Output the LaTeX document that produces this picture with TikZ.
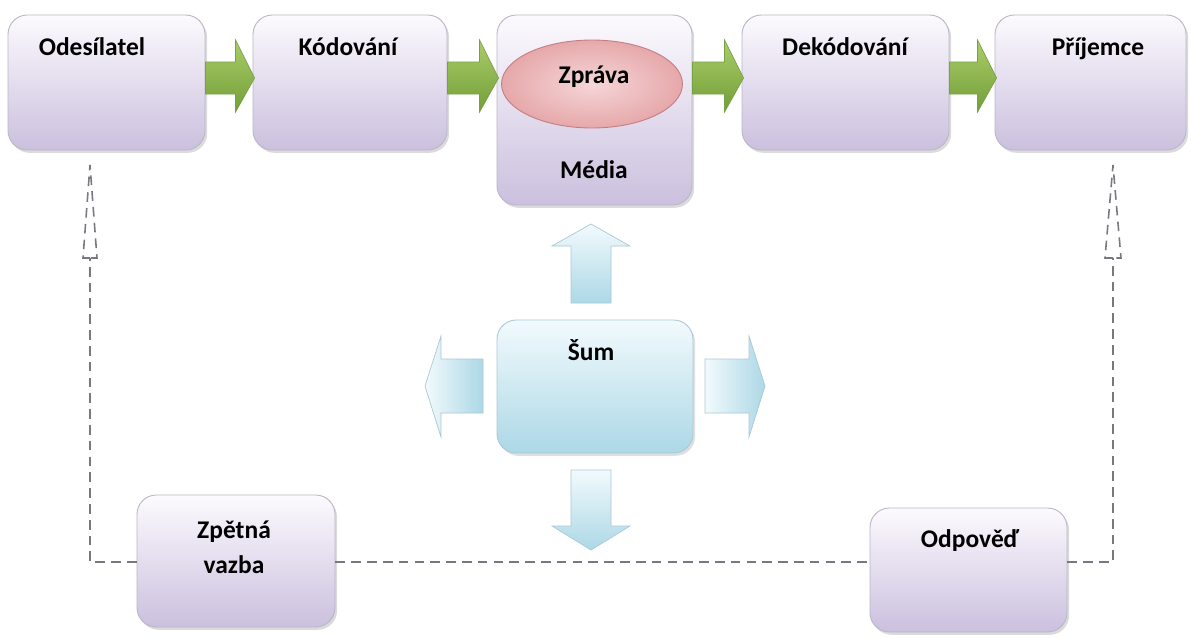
\documentclass[tikz,border=0pt]{standalone}
\usepackage{fontspec}
\setmainfont{Carlito}
\usetikzlibrary{shadows,fit,calc,shapes.geometric}
\definecolor{boxtop}{RGB}{252,250,254}
\definecolor{boxbot}{RGB}{203,192,222}
\definecolor{boxline}{RGB}{185,182,198}
\definecolor{bluetop}{RGB}{242,250,253}
\definecolor{bluebot}{RGB}{172,216,230}
\definecolor{blueline}{RGB}{170,200,215}
\definecolor{greentop}{RGB}{170,205,105}
\definecolor{greenbot}{RGB}{115,158,55}
\definecolor{greenline}{RGB}{120,160,70}
\definecolor{pinkin}{RGB}{246,214,216}
\definecolor{pinkout}{RGB}{230,168,170}
\definecolor{pinkline}{RGB}{195,125,128}
\definecolor{dashgray}{RGB}{120,120,128}
\tikzset{
  pbox/.style={draw=boxline, line width=0.5pt, rounded corners=11pt, inner sep=0pt,
     top color=boxtop, bottom color=boxbot,
     drop shadow={opacity=0.28, shadow xshift=1.2pt, shadow yshift=-1.6pt}},
  bbox/.style={draw=blueline, line width=0.5pt, rounded corners=11pt, inner sep=0pt,
     top color=bluetop, bottom color=bluebot,
     drop shadow={opacity=0.25, shadow xshift=1.2pt, shadow yshift=-1.6pt}},
  lbl/.style={font=\fontsize{14.5}{17}\selectfont\bfseries, anchor=base, inner sep=0pt},
  garrow/.style={draw=greenline, line width=0.4pt, top color=greentop, bottom color=greenbot},
  barrow/.style={draw=blueline, line width=0.4pt, top color=bluetop, bottom color=bluebot},
  barrowh/.style={draw=blueline, line width=0.4pt, left color=bluetop, right color=bluebot},
  fb/.style={draw=dashgray, line width=0.9pt, dash pattern=on 5.5pt off 3.5pt},
}
\begin{document}
\begin{tikzpicture}[x=0.02cm,y=-0.02cm]
\useasboundingbox (0,0) rectangle (1191,637);
\fill[white] (0,0) rectangle (1191,637);

% feedback dashed lines (behind boxes)
\coordinate (ltip) at (90,165);
\coordinate (lbase) at (90,258);
\coordinate (lcorner) at (90,562);
\coordinate (rtip) at (1113,165);
\coordinate (rbase) at (1113,258);
\coordinate (rcorner) at (1113,562);

% top row boxes
\node[pbox, fit={(8,15) (205,150)}] (odes) {};
\node[pbox, fit={(253,15) (447,150)}] (kod) {};
\node[pbox, fit={(497,15) (692,205)}] (media) {};
\node[pbox, fit={(742,15) (949,150)}] (dek) {};
\node[pbox, fit={(995,15) (1186,150)}] (prij) {};

% bottom boxes
\node[pbox, fit={(137,495) (335,627)}] (zpet) {};
\node[pbox, fit={(870,508) (1067,632)}] (odp) {};

% noise box
\node[bbox, fit={(497,320) (693,453)}] (sum) {};

% Zprava ellipse
\node[draw=pinkline, line width=0.5pt, ellipse, inner color=pinkin, outer color=pinkout,
      minimum width=3.62cm, minimum height=1.76cm, inner sep=0pt] (zprava) at (592,84) {};

% labels
\node[lbl] at (92,55) {Odesílatel};
\node[lbl] at (348,55) {Kódování};
\node[lbl] at (594,83) {Zpráva};
\node[lbl] at (594,178) {Média};
\node[lbl] at (845,55) {Dekódování};
\node[lbl] at (1098,55) {Příjemce};
\node[lbl] at (591,360) {Šum};
\node[lbl] at (234,538) {Zpětná};
\node[lbl] at (234,573) {vazba};
\node[lbl] at (970,547) {Odpověď};

% green block arrows between boxes
\foreach \a/\b in {odes/kod, kod/media, media/dek, dek/prij}{
  \path (\a.east |- 0,62) coordinate (s1) (\b.west |- 0,78) coordinate (tp);
  \draw[garrow] (s1) -- ($(tp)+(-17,-16)$) -- ($(tp)+(-17,-38)$) -- ($(tp)+(2,0)$)
     -- ($(tp)+(-17,34)$) -- ($(tp)+(-17,16)$) -- (s1 |- 0,94) -- cycle;
}

% blue block arrows around noise
\coordinate (up) at (591,224);
\draw[barrow] (571,303) -- (571,246) -- (552,246) -- (up) -- (630,246) -- (611,246) -- (611,303) -- cycle;
\coordinate (dn) at (591,550);
\draw[barrow] (571,470) -- (571,526) -- (552,526) -- (dn) -- (630,526) -- (611,526) -- (611,470) -- cycle;
\coordinate (lf) at (425,386);
\draw[barrowh] (483,359) -- (441,359) -- (441,336) -- (lf) -- (441,437) -- (441,413) -- (483,413) -- cycle;
\coordinate (rt) at (765,386);
\draw[barrowh] (705,359) -- (749,359) -- (749,336) -- (rt) -- (749,437) -- (749,413) -- (705,413) -- cycle;

% feedback path
\draw[fb] (zpet.west |- lcorner) -- (lcorner) -- (lbase);
\draw[fb] (lbase) -- ++(-7,0) -- (ltip) -- ($(lbase)+(7,0)$) -- (lbase);
\draw[fb] (zpet.east |- lcorner) -- (odp.west |- lcorner);
\draw[fb] (odp.east |- rcorner) -- (rcorner) -- (rbase);
\draw[fb] (rbase) -- ++(-8,0) -- (rtip) -- ($(rbase)+(8,0)$) -- (rbase);
\end{tikzpicture}
\end{document}
